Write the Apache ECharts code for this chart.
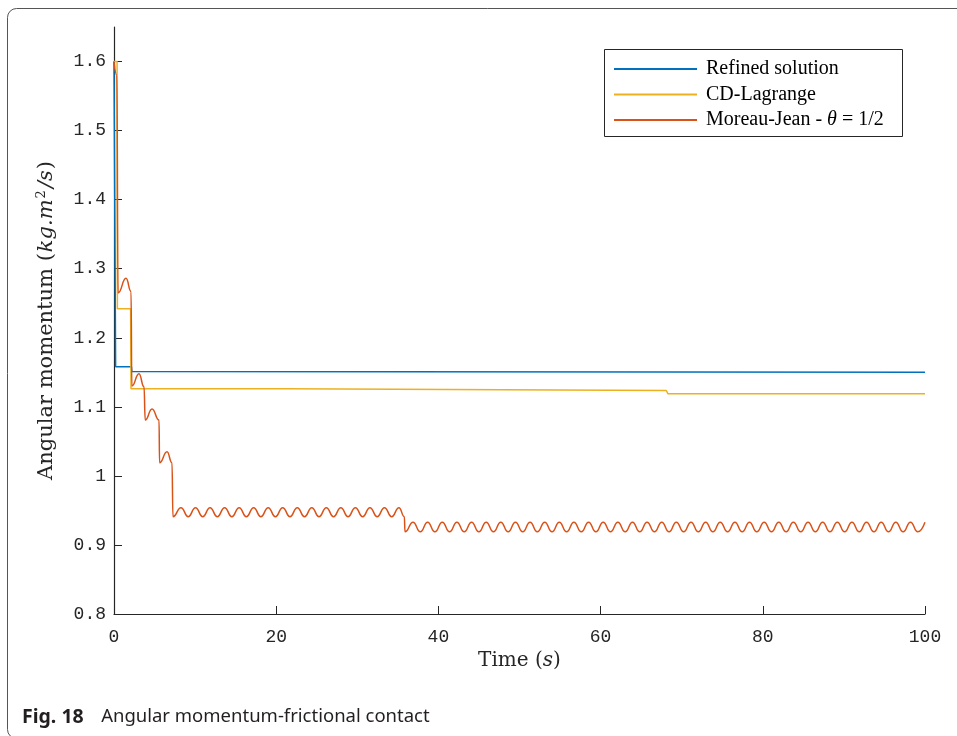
<!DOCTYPE html>
<html>
<head>
<meta charset="utf-8">
<script src="https://cdn.jsdelivr.net/npm/echarts@6/dist/echarts.min.js"></script>
<style>
html,body{margin:0;padding:0;background:#fff;}
#chart{width:957px;height:736px;}
</style>
</head>
<body>
<div id="chart"></div>
<script>
// ---- data ----
const seriesNames = ['Refined solution', 'CD-Lagrange', 'Moreau-Jean - θ = 1/2'];
const xTicks = [0, 20, 40, 60, 80, 100];
const yTicks = [0.8, 0.9, 1.0, 1.1, 1.2, 1.3, 1.4, 1.5, 1.6];

const refined = [
  [0, 1.6], [0.2, 1.158], [2.15, 1.158], [2.2, 1.151], [100, 1.150]
];

const cdLagrange = [
  [0, 1.6], [0.38, 1.6], [0.42, 1.242], [2.05, 1.242], [2.1, 1.126],
  [21.2, 1.126], [21.3, 1.1236], [68.1, 1.1236], [68.3, 1.119], [100, 1.119]
];

const moreauJean = [
  [0, 1.6], [0.35, 1.58], [0.5, 1.265], [1.48, 1.286], [2.10, 1.267],
  [2.2, 1.130], [3.08, 1.148], [3.70, 1.129], [3.85, 1.081], [4.69, 1.097],
  [5.55, 1.081], [5.62, 1.019], [6.54, 1.035], [7.15, 1.019], [7.27, 0.941],
  [8.26, 0.954], [9.15, 0.941], [10.05, 0.954], [10.94, 0.941], [11.84, 0.954],
  [12.74, 0.941], [13.64, 0.954], [14.53, 0.941], [15.43, 0.954], [16.32, 0.941],
  [17.22, 0.954], [18.11, 0.941], [19.01, 0.954], [19.90, 0.941], [20.80, 0.954],
  [21.70, 0.941], [22.60, 0.954], [23.49, 0.941], [24.39, 0.954], [25.28, 0.941],
  [26.18, 0.954], [27.07, 0.941], [27.97, 0.954], [28.86, 0.941], [29.76, 0.954],
  [30.66, 0.941], [31.56, 0.954], [32.45, 0.941], [33.35, 0.954], [34.24, 0.941],
  [35.14, 0.954], [35.80, 0.941], [35.88, 0.919],
  [36.87, 0.933], [37.77, 0.919], [38.67, 0.933], [39.57, 0.919], [40.48, 0.933],
  [41.38, 0.919], [42.28, 0.933], [43.18, 0.919], [44.09, 0.933], [44.99, 0.919],
  [45.89, 0.933], [46.79, 0.919], [47.69, 0.933], [48.60, 0.919], [49.50, 0.933],
  [50.40, 0.919], [51.30, 0.933], [52.20, 0.919], [53.11, 0.933], [54.01, 0.919],
  [54.91, 0.933], [55.81, 0.919], [56.71, 0.933], [57.62, 0.919], [58.52, 0.933],
  [59.42, 0.919], [60.32, 0.933], [61.22, 0.919], [62.13, 0.933], [63.03, 0.919],
  [63.93, 0.933], [64.83, 0.919], [65.73, 0.933], [66.64, 0.919], [67.54, 0.933],
  [68.44, 0.919], [69.34, 0.933], [70.24, 0.919], [71.15, 0.933], [72.05, 0.919],
  [72.95, 0.933], [73.85, 0.919], [74.75, 0.933], [75.66, 0.919], [76.56, 0.933],
  [77.46, 0.919], [78.36, 0.933], [79.26, 0.919], [80.17, 0.933], [81.07, 0.919],
  [81.97, 0.933], [82.87, 0.919], [83.77, 0.933], [84.68, 0.919], [85.58, 0.933],
  [86.48, 0.919], [87.38, 0.933], [88.28, 0.919], [89.19, 0.933], [90.09, 0.919],
  [90.99, 0.933], [91.89, 0.919], [92.79, 0.933], [93.70, 0.919], [94.60, 0.933],
  [95.50, 0.919], [96.40, 0.933], [97.30, 0.919], [98.21, 0.933], [99.11, 0.919],
  [100.0, 0.933]
];

const colors = ['#0072BD', '#EDB120', '#D95319'];

// ---- chart ----
const chart = echarts.init(document.getElementById('chart'), null, {renderer: 'canvas'});
const axisColor = '#262626';
const monoFont = '"Liberation Mono", "DejaVu Sans Mono", monospace';
const serifFont = '"Liberation Serif", "DejaVu Serif", serif';
const titleFont = '"DejaVu Serif", "Liberation Serif", serif';
const captionFont = '"Noto Sans", "Open Sans", sans-serif';

const option = {
  animation: false,
  backgroundColor: '#fff',
  grid: {left: 114, right: 32, top: 27, bottom: 122, containLabel: false},
  xAxis: {
    type: 'value',
    min: 0, max: 100, interval: 20,
    name: 'Time ({i|s})',
    nameLocation: 'middle',
    nameGap: 35,
    nameTextStyle: {
      fontFamily: titleFont, fontSize: 20, color: axisColor,
      rich: {i: {fontFamily: titleFont, fontStyle: 'italic', fontSize: 20, color: axisColor}}
    },
    axisLine: {lineStyle: {color: axisColor, width: 1.2}},
    axisTick: {inside: true, length: 8, lineStyle: {color: axisColor}, customValues: xTicks},
    axisLabel: {fontFamily: monoFont, fontSize: 18, color: axisColor, margin: 14, customValues: xTicks},
    splitLine: {show: false}
  },
  yAxis: {
    type: 'value',
    min: 0.8, max: 1.65,
    name: 'Angular momentum ({i|kg.m}{sup|2}{i|/s})',
    nameLocation: 'middle',
    nameGap: 55,
    nameRotate: 90,
    nameTextStyle: {
      fontFamily: titleFont, fontSize: 21, color: axisColor,
      rich: {
        i: {fontFamily: titleFont, fontStyle: 'italic', fontSize: 21, color: axisColor, padding: [0, 1, 0, 1]},
        sup: {fontFamily: titleFont, fontSize: 13, color: axisColor, verticalAlign: 'bottom', padding: [0, 1, 11, 0]}
      }
    },
    axisLine: {show: true, lineStyle: {color: axisColor, width: 1.2}},
    axisTick: {show: true, inside: true, length: 8, lineStyle: {color: axisColor}, customValues: yTicks},
    axisLabel: {
      fontFamily: monoFont, fontSize: 18, color: axisColor, margin: 8,
      customValues: yTicks,
      formatter: v => (Math.abs(v - 1) < 1e-9 ? '1' : String(Math.round(v * 10) / 10))
    },
    splitLine: {show: false}
  },
  legend: {
    orient: 'vertical',
    left: 614, top: 59,
    padding: 0,
    itemGap: 5.5,
    itemWidth: 83, itemHeight: 2,
    icon: 'rect',
    data: seriesNames,
    textStyle: {
      fontFamily: serifFont, fontSize: 20, color: '#000', lineHeight: 20,
      padding: [0, 0, 0, 4],
      rich: {i: {fontFamily: serifFont, fontStyle: 'italic', fontSize: 20, color: '#000'}}
    },
    formatter: name => name.replace('θ', '{i|θ}')
  },
  graphic: [
    {
      type: 'rect', silent: true, z: 0,
      shape: {x: 7.5, y: 8.5, width: 980, height: 730, r: 9},
      style: {fill: 'none', stroke: '#555', lineWidth: 1}
    },
    {
      type: 'rect', silent: true, z: 10,
      shape: {x: 604.5, y: 49.5, width: 298, height: 87},
      style: {fill: 'none', stroke: '#262626', lineWidth: 1}
    },
    {
      type: 'text', silent: true, left: 22, top: 707,
      style: {
        text: '{b|Fig. 18}   Angular momentum-frictional contact',
        fontFamily: captionFont, fontSize: 18.5, fill: '#231f20',
        rich: {b: {fontFamily: captionFont, fontWeight: 'bold', fontSize: 19.5, fill: '#231f20', padding: [0, 3, 0, 0]}}
      }
    }
  ],
  series: [
    {
      name: seriesNames[0], type: 'line', data: refined, showSymbol: false,
      lineStyle: {color: colors[0], width: 1.5}, itemStyle: {color: colors[0]}, z: 2
    },
    {
      name: seriesNames[1], type: 'line', data: cdLagrange, showSymbol: false,
      lineStyle: {color: colors[1], width: 1.5}, itemStyle: {color: colors[1]}, z: 3
    },
    {
      name: seriesNames[2], type: 'line', data: moreauJean, showSymbol: false,
      smooth: 0.5, smoothMonotone: 'x',
      lineStyle: {color: colors[2], width: 1.5}, itemStyle: {color: colors[2]}, z: 4
    }
  ]
};
chart.setOption(option);
</script>
</body>
</html>
